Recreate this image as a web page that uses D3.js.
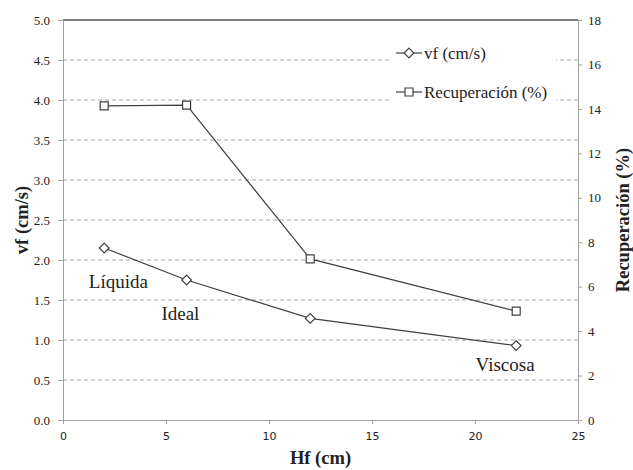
<!DOCTYPE html>
<html>
<head>
<meta charset="utf-8">
<script src="https://cdn.jsdelivr.net/npm/d3@7"></script>
<style>
  body { margin: 0; background: #fff; }
  svg text { fill: #222; }
  .serif { font-family: "Liberation Serif", "Times New Roman", Times, "DejaVu Serif", serif; }
</style>
</head>
<body>
<div id="chart"></div>
<script>
const hf = [2, 6, 12, 22];
const vf = [2.15, 1.75, 1.27, 0.93];
const recuperacion = [14.14, 14.17, 7.25, 4.9];
const xTicks = [0, 5, 10, 15, 20, 25];
const yLeftTicks = [0, 0.5, 1, 1.5, 2, 2.5, 3, 3.5, 4, 4.5, 5];
const yRightTicks = [0, 2, 4, 6, 8, 10, 12, 14, 16, 18];
const notes = [
    { text: "Líquida", x: 2.69, y: 1.65 },
    { text: "Ideal", x: 5.7, y: 1.25 },
    { text: "Viscosa", x: 21.46, y: 0.61 }
];

const W = 633, H = 470;
const margin = { top: 20, right: 55, bottom: 50, left: 63 };

const svg = d3.select("#chart")
    .append("svg")
    .attr("width", W)
    .attr("height", H);

const x = d3.scaleLinear().domain([0, 25]).range([margin.left, W - margin.right]);
const y = d3.scaleLinear().domain([0, 5]).range([H - margin.bottom, margin.top]);
const yR = d3.scaleLinear().domain([0, 18]).range([H - margin.bottom, margin.top]);

// gridlines
svg.append("g")
    .selectAll("line")
    .data(yLeftTicks.filter(d => d > 0 && d < 5))
    .join("line")
    .attr("x1", x(0)).attr("x2", x(25))
    .attr("y1", d => y(d)).attr("y2", d => y(d))
    .attr("stroke", "#a6a6a6")
    .attr("stroke-dasharray", "4,3");

// top border
svg.append("line")
    .attr("x1", x(0)).attr("x2", x(25))
    .attr("y1", y(5)).attr("y2", y(5))
    .attr("stroke", "#000");

// axes
const gx = svg.append("g")
    .attr("transform", `translate(0,${y(0)})`)
    .call(d3.axisBottom(x).tickValues(xTicks).tickSize(4).tickPadding(8).tickFormat(d3.format("d")));
gx.selectAll("text").attr("font-family", "'DejaVu Sans', Verdana, sans-serif").attr("font-size", 11);

const gy = svg.append("g")
    .attr("transform", `translate(${x(0)},0)`)
    .call(d3.axisLeft(y).tickValues(yLeftTicks).tickSize(5).tickPadding(8).tickFormat(d3.format(".1f")));

const gyR = svg.append("g")
    .attr("transform", `translate(${x(25)},0)`)
    .call(d3.axisRight(yR).tickValues(yRightTicks).tickSize(4).tickPadding(6).tickFormat(d3.format("d")));

[gy, gyR].forEach(g => g.attr("font-family", null).attr("font-size", null)
    .selectAll("text").attr("class", "serif").style("font-size", "13px"));

svg.selectAll(".domain, .tick line").attr("stroke", "#a0a0a0");

// axis titles
svg.append("text")
    .attr("class", "serif")
    .attr("x", (x(0) + x(25)) / 2)
    .attr("y", 464)
    .attr("text-anchor", "middle")
    .style("font-size", "18.5px").style("font-weight", "bold")
    .text("Hf (cm)");

svg.append("text")
    .attr("class", "serif")
    .attr("transform", `translate(28,${(y(0) + y(5)) / 2}) rotate(-90)`)
    .attr("text-anchor", "middle")
    .style("font-size", "18.5px").style("font-weight", "bold")
    .text("vf (cm/s)");

svg.append("text")
    .attr("class", "serif")
    .attr("transform", `translate(629,${(y(0) + y(5)) / 2}) rotate(-90)`)
    .attr("text-anchor", "middle")
    .style("font-size", "18.5px").style("font-weight", "bold")
    .text("Recuperación (%)");

// series
const lineColor = "#404040";
const pts1 = hf.map((d, i) => [x(d), y(vf[i])]);
const pts2 = hf.map((d, i) => [x(d), yR(recuperacion[i])]);

svg.append("path")
    .attr("d", d3.line()(pts2))
    .attr("fill", "none").attr("stroke", lineColor).attr("stroke-width", 1.2);
svg.append("path")
    .attr("d", d3.line()(pts1))
    .attr("fill", "none").attr("stroke", lineColor).attr("stroke-width", 1.2);

const diamond = d3.symbol().type(d3.symbolDiamond2).size(60);
const square = d3.symbol().type(d3.symbolSquare).size(64);

svg.append("g").selectAll("path")
    .data(pts1).join("path")
    .attr("transform", d => `translate(${d[0]},${d[1]})`)
    .attr("d", diamond)
    .attr("fill", "#fff").attr("stroke", lineColor).attr("stroke-width", 1.2);

svg.append("g").selectAll("path")
    .data(pts2).join("path")
    .attr("transform", d => `translate(${d[0]},${d[1]})`)
    .attr("d", square)
    .attr("fill", "#fff").attr("stroke", lineColor).attr("stroke-width", 1.2);

// annotations
svg.append("g").selectAll("text")
    .data(notes).join("text")
    .attr("class", "serif")
    .attr("x", d => x(d.x))
    .attr("y", d => y(d.y))
    .attr("text-anchor", "middle")
    .style("font-size", "19px")
    .text(d => d.text);

// legend
const legend = svg.append("g").attr("transform", "translate(390,32)");
legend.append("rect")
    .attr("width", 166).attr("height", 76)
    .attr("fill", "#fff");

const legendItems = [
    { label: "vf (cm/s)", sym: diamond },
    { label: "Recuperación (%)", sym: square }
];
legendItems.forEach((d, i) => {
    const row = legend.append("g").attr("transform", `translate(6,${21 + i * 39})`);
    row.append("line")
        .attr("x1", 0).attr("x2", 26)
        .attr("stroke", lineColor).attr("stroke-width", 1.2);
    row.append("path")
        .attr("transform", "translate(13,0)")
        .attr("d", d.sym)
        .attr("fill", "#fff").attr("stroke", lineColor).attr("stroke-width", 1.2);
    row.append("text")
        .attr("class", "serif")
        .attr("x", 28)
        .attr("y", 6)
        .style("font-size", "17px")
        .text(d.label);
});
</script>
</body>
</html>
